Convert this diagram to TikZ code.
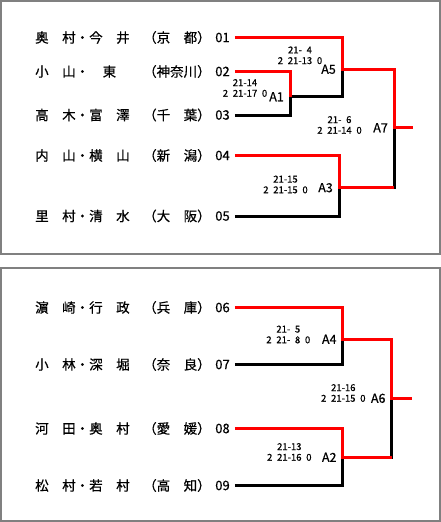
\documentclass[tikz,border=0pt]{standalone}
\usepackage{fontspec}
\setmainfont{Noto Sans CJK JP}[FakeBold=0.6]
\usetikzlibrary{positioning}
\definecolor{winred}{RGB}{255,0,0}
\definecolor{frame}{RGB}{128,128,128}
% half-width looking spaces in the scores
\newcommand\scorefont{\fontsize{9.5}{10.7}\selectfont\spaceskip 0.5em\relax}
\tikzset{
  panel/.style={draw=frame,line width=2pt},
  player/.style={anchor=west,inner sep=0pt,font=\fontsize{13.5}{13.5}\selectfont},
  seed/.style={inner xsep=5pt,inner ysep=1pt,font=\fontsize{13}{13}\selectfont},
  match/.style={inner sep=2pt,font=\fontsize{12.5}{12.5}\selectfont},
  score/.style={align=center,inner sep=1pt,font=\scorefont},
  % bracket lines
  won/.style={draw=winred,line width=3pt},
  lost/.style={draw=black,line width=3pt},
}
\begin{document}
\begin{tikzpicture}[x=1pt,y=-1pt]
  \useasboundingbox (0,0) rectangle (441,522);
  \draw[panel] (1,1) rectangle (439.5,254);
  \draw[panel] (1,268) rectangle (439.5,520.5);

  % players
  \foreach \num/\y/\who in {01/37.5/奥　村・今　井　（京　都）,
      02/71.5/小　山・　東　　（神奈川）,
      03/115/高　木・富　澤　（千　葉）,
      04/155.5/内　山・横　山　（新　潟）,
      05/216/里　村・清　水　（大　阪）,
      06/307.5/濵　崎・行　政　（兵　庫）,
      07/364.5/小　林・深　堀　（奈　良）,
      08/428.5/河　田・奥　村　（愛　媛）,
      09/485.5/松　村・若　村　（高　知）}{
    \node[player] (p\num) at (35,\y) {\who};
    \node[seed] (n\num) at (222.5,\y) {\num};
  }

  % junctions
  \coordinate (j1) at (290,96.7);
  \coordinate (j5) at (342,69.3);
  \coordinate (j3) at (339,187.7);
  \coordinate (j7) at (394,127.7);
  \coordinate (o7) at (413,127.7);
  \coordinate (j4) at (342.7,339.3);
  \coordinate (j2) at (342.7,457.3);
  \coordinate (j6) at (391.7,398.3);
  \coordinate (o6) at (411.7,398.3);

  \node[match,left=4pt of j1] (A1) {A1};
  \node[match,left=4pt of j5] (A5) {A5};
  \node[match,left=4pt of j3] (A3) {A3};
  \node[match,left=4pt of j7] (A7) {A7};
  \node[match,left=4pt of j4] (A4) {A4};
  \node[match,left=4pt of j2] (A2) {A2};
  \node[match,left=4pt of j6] (A6) {A6};

  \node[score] (s1) at (245,88) {21-14\\2 21-17 0};
  \node[score] (s5) at (300,55.3) {21- 4\\2 21-13 0};
  \node[score] (s7) at (339.5,125) {21- 6\\2 21-14 0};
  \node[score] (s3) at (285.5,184.5) {21-15\\2 21-15 0};
  \node[score] (s4) at (288.3,334.5) {21- 5\\2 21- 8 0};
  \node[score] (s6) at (343.3,393) {21-16\\2 21-15 0};
  \node[score] (s2) at (289.3,452) {21-13\\2 21-16 0};

  \draw[lost] (n03.east) -| (j1) -| (j5);
  \draw[lost] (n05.east) -| (j3);
  \draw[lost,line cap=rect] (j3 -| j7) -- (j7);
  \draw[won] (n02.east) -| (j1);
  \draw[won] (n01.east) -| (j5) -| (j7) -- (o7);
  \draw[won] (n04.east) -| (j3) -- (j3 -| j7);

  \draw[lost] (n07.east) -| (j4);
  \draw[lost] (n09.east) -| (j2);
  \draw[lost,line cap=rect] (j2 -| j6) -- (j6);
  \draw[won] (n06.east) -| (j4) -| (j6) -- (o6);
  \draw[won] (n08.east) -| (j2) -- (j2 -| j6);
\end{tikzpicture}
\end{document}
